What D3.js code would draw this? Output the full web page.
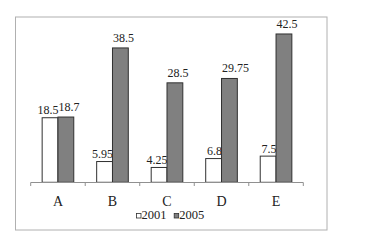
<!DOCTYPE html>
<html><head><meta charset="utf-8">
<script src="https://cdn.jsdelivr.net/npm/d3@7"></script>
<style>body{margin:0;background:#fff}svg{display:block}</style>
</head><body>
<script>
const categories = ["A","B","C","D","E"];
const series = ["2001","2005"];
const values2001 = [18.5, 5.95, 4.25, 6.8, 7.5];
const values2005 = [18.7, 38.5, 28.5, 29.75, 42.5];
const labels2001 = ["18.5","5.95","4.25","6.8","7.5"];
const labels2005 = ["18.7","38.5","28.5","29.75","42.5"];

const W = 390, H = 243;
const font = "Liberation Serif, Times New Roman, serif";
const svg = d3.select("body").append("svg").attr("width", W).attr("height", H);

svg.append("rect").attr("x",15.5).attr("y",17).attr("width",311.5).attr("height",213)
  .attr("fill","#fff").attr("stroke","#b0b0b0").attr("stroke-width",1);

const x = d3.scaleBand().domain(categories).range([30.7, 303.3]).paddingInner(0.42).paddingOuter(0.21);
const x1 = d3.scaleBand().domain(series).range([0, x.bandwidth()]);
const y = d3.scaleLinear().domain([0, 50]).range([182.3, 182.3 - 174.5]);

const data = categories.map((c,i)=>({c, v:[values2001[i], values2005[i]], l:[labels2001[i], labels2005[i]]}));
const fills = ["#ffffff", "#808080"];

const g = svg.append("g");
data.forEach(d=>{
  series.forEach((s,j)=>{
    const bx = x(d.c) + x1(s);
    g.append("rect").attr("x", bx).attr("y", y(d.v[j])).attr("width", x1.bandwidth()).attr("height", y(0)-y(d.v[j]))
      .attr("fill", fills[j]).attr("stroke","#303030").attr("stroke-width",1);
    g.append("text").attr("x", j===0 ? bx + x1.bandwidth() + 0.5 : bx + 0.5)
      .attr("y", y(d.v[j]) - (j===0 ? 3.5 : 6))
      .attr("text-anchor", j===0 ? "end" : "start")
      .style("font-family", font).style("font-size", "12px").attr("fill","#222").text(d.l[j]);
  });
});

// axis
const axis = svg.append("g");
axis.append("line").attr("x1",30.7).attr("x2",303.3).attr("y1",182.5).attr("y2",182.5).attr("stroke","#909090");
const ticks = categories.map(c=>x(c) - x.step()*x.paddingInner()/2).concat([303.3]);
ticks.forEach(t=>axis.append("line").attr("x1",t).attr("x2",t).attr("y1",182.5).attr("y2",186).attr("stroke","#909090"));
categories.forEach(c=>axis.append("text").attr("x", x(c)+x.bandwidth()/2).attr("y",205.5)
  .attr("text-anchor","middle").style("font-family",font).style("font-size","14px").attr("fill","#222").text(c));

// legend
const leg = svg.append("g");
const legItems = [{s:"2001", f:fills[0], x:136},{s:"2005", f:fills[1], x:173.7}];
legItems.forEach(it=>{
  leg.append("rect").attr("x",it.x+0.5).attr("y",213.5).attr("width",4.5).attr("height",4.5).attr("fill",it.f).attr("stroke","#303030").attr("stroke-width",0.8);
  leg.append("text").attr("x",it.x+5.5).attr("y",218.5).style("font-family",font).style("font-size","12.5px").attr("fill","#222").text(it.s);
});
</script>
</body></html>
